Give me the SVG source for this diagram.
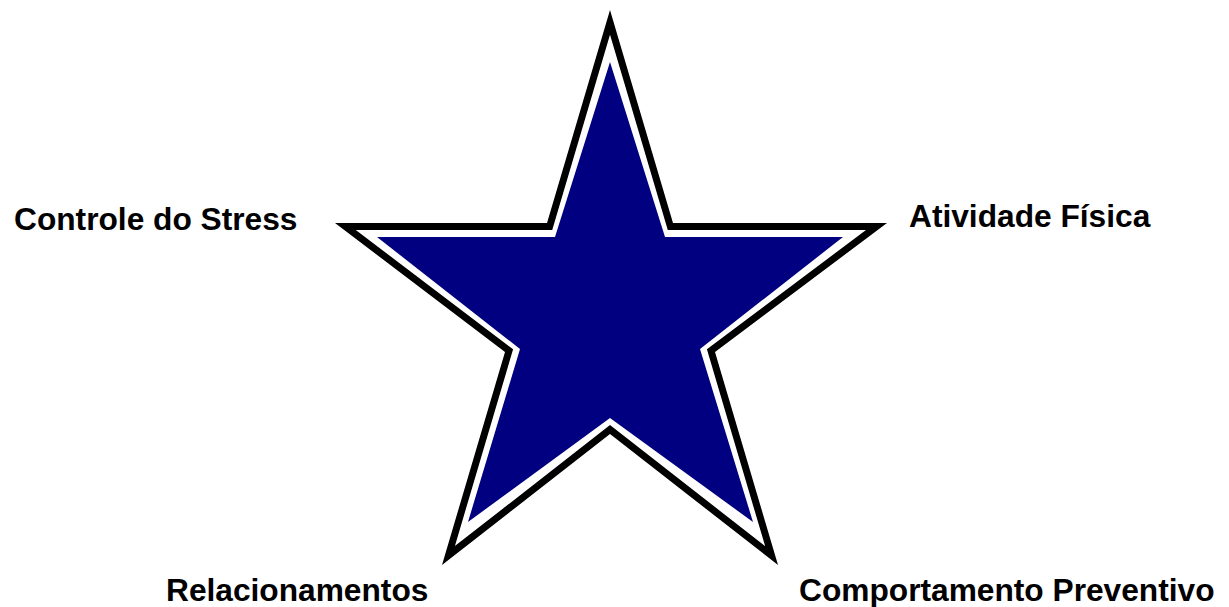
<svg xmlns="http://www.w3.org/2000/svg" width="1229" height="607" viewBox="0 0 1229 607">
  <style>
    .lbl { font-family: "Liberation Sans", Arial, sans-serif; font-weight: bold; font-size: 31.7px; fill: #000000; }
  </style>
  <defs>
    <polygon id="outerStar" points="610,10 673,223 887,223 715,352 778,565 610,434 442,565 505,352 335,223 547,223"/>
    <clipPath id="starClip">
      <use href="#outerStar"/>
    </clipPath>
  </defs>
  <rect width="1229" height="607" fill="#ffffff"/>
  <g id="star">
    <use href="#outerStar" fill="#ffffff" stroke="#000000" stroke-width="14" stroke-linejoin="miter" stroke-miterlimit="10" clip-path="url(#starClip)"/>
    <polygon points="610,62 665,237 843,237 700,349 753,522 610,418 468,522 520,349 377,237 555,237" fill="#000080"/>
  </g>
  <g id="label-stress">
    <text class="lbl" x="14" y="230">Controle do Stress</text>
  </g>
  <g id="label-atividade">
    <text class="lbl" x="909" y="227">Atividade Física</text>
  </g>
  <g id="label-relacionamentos">
    <text class="lbl" x="166" y="601">Relacionamentos</text>
  </g>
  <g id="label-comportamento">
    <text class="lbl" x="799" y="601">Comportamento Preventivo</text>
  </g>
  <g id="connectors"></g>
</svg>
